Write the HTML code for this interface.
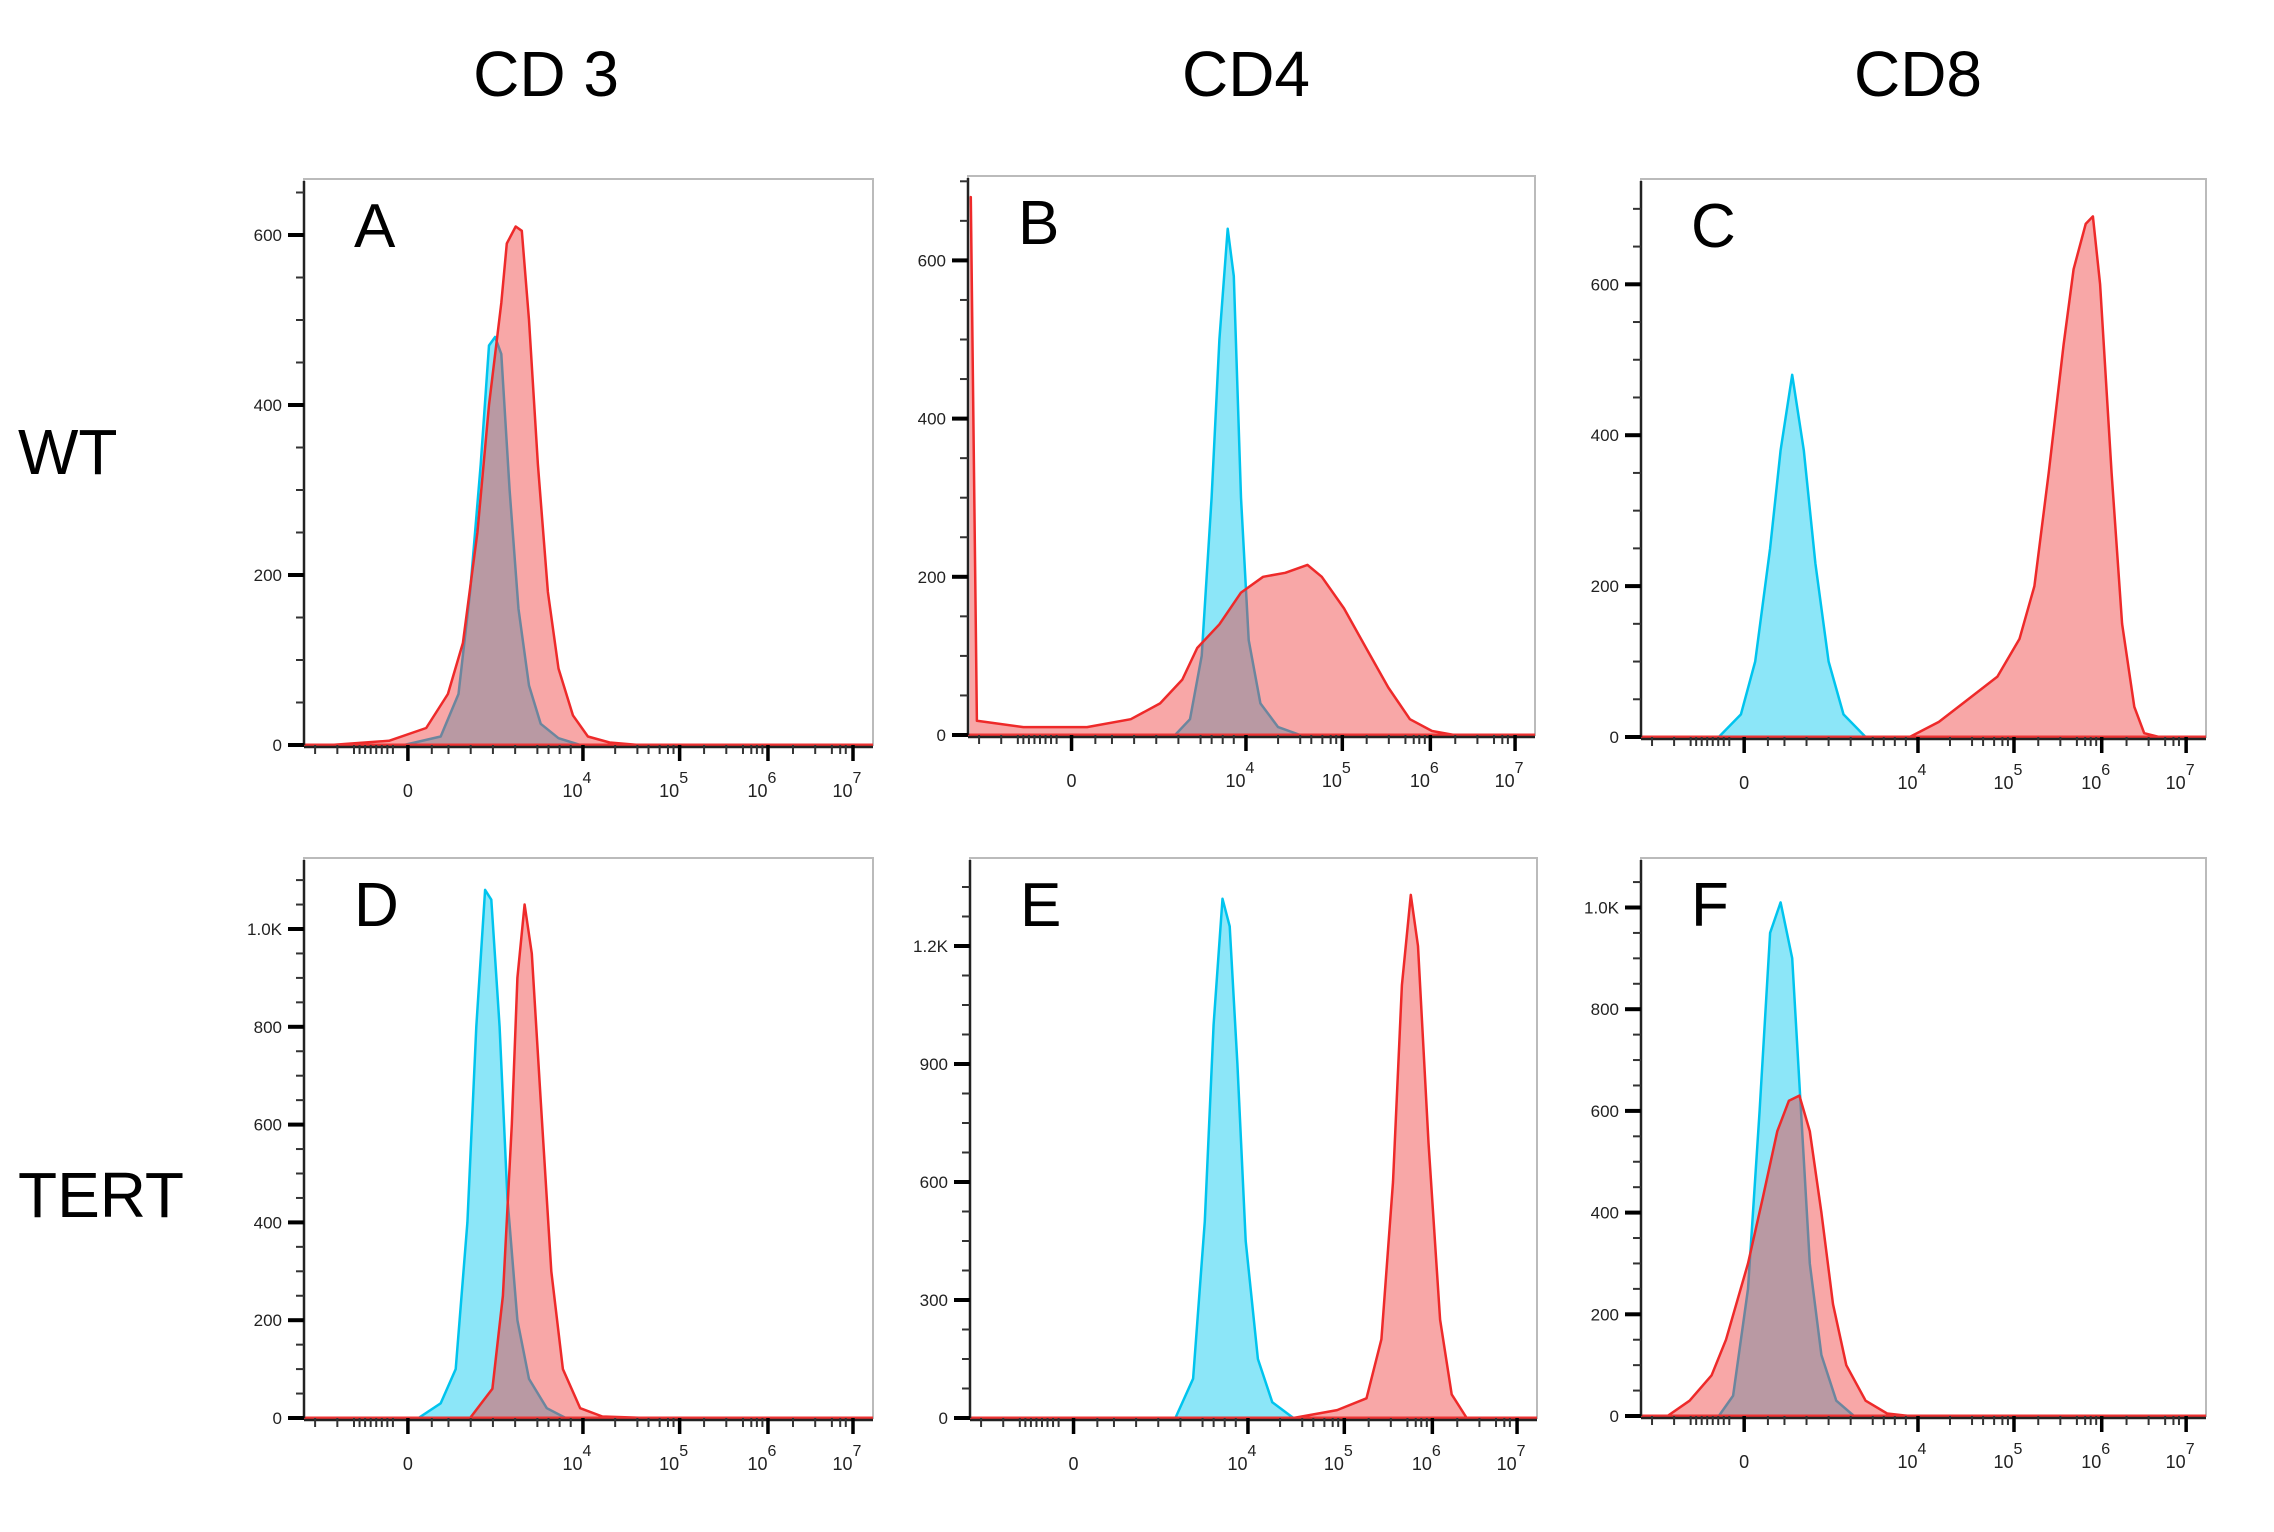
<!DOCTYPE html>
<html><head><meta charset="utf-8"><style>
html,body{margin:0;padding:0;background:#fff}
svg{display:block}
text{font-family:"Liberation Sans",Arial,sans-serif}
</style></head><body>
<svg id="fig" width="2274" height="1532" viewBox="0 0 2274 1532" xmlns="http://www.w3.org/2000/svg">
<text x="546" y="96" font-size="64" text-anchor="middle">CD 3</text>
<text x="1246" y="96" font-size="64" text-anchor="middle">CD4</text>
<text x="1918" y="96" font-size="64" text-anchor="middle">CD8</text>
<text x="18" y="474" font-size="64">WT</text>
<text x="18" y="1217" font-size="64">TERT</text>
</svg>
<script>
// x in channel units (0-1024 across frame), y in event counts
const xTickLabels = ["0","4","5","6","7"];
const xTickChannels = [187, 502, 676, 835, 988];
const xMinorChannels = [20,60,90,100,110,120,130,140,150,160,230,260,300,340,380,420,440,460,480,560,600,620,640,655,665,720,760,790,805,815,825,880,920,950,965,975];

const aRedX = [48,153,220,259,286,312,333,355,365,381,392,405,421,439,458,484,511,550,603];
const aRedY = [0,5,20,60,120,250,400,520,590,610,605,500,330,180,90,35,10,3,0];
const aBlueX = [180,246,278,299,318,333,344,355,370,386,405,426,458,497];
const aBlueY = [0,10,60,180,330,470,480,460,300,160,70,25,8,0];

const bRedX = [3,5,16,100,215,294,347,387,414,454,493,533,573,613,639,679,719,759,798,838,878,1020];
const bRedY = [680,680,18,10,10,20,40,70,110,140,180,200,205,215,200,160,110,60,20,5,0,0];
const bBlueX = [374,401,422,440,454,469,480,493,507,528,560,600];
const bBlueY = [0,20,100,300,500,640,580,300,120,40,10,0];

const cBlueX = [141,181,207,234,253,274,295,316,340,367,407];
const cBlueY = [0,30,100,250,380,480,380,230,100,30,0];
const cRedX = [487,540,593,646,686,713,739,766,784,806,819,832,853,872,894,912,939];
const cRedY = [0,20,50,80,130,200,350,520,620,680,690,600,350,150,40,5,0];

const dBlueX = [206,246,273,294,310,326,337,352,366,384,405,437,471];
const dBlueY = [0,30,100,400,800,1080,1060,800,450,200,80,20,0];
const dRedX = [299,339,358,374,384,397,410,426,445,466,497,537,617];
const dRedY = [0,60,250,600,900,1050,950,650,300,100,20,3,0];

const eBlueX = [371,403,424,440,456,469,483,498,520,546,584];
const eBlueY = [0,100,500,1000,1320,1250,900,450,150,40,0];
const eRedX = [584,663,716,743,764,780,796,809,828,849,870,897];
const eRedY = [0,20,50,200,600,1100,1330,1200,700,250,60,0];

const fBlueX = [141,167,194,215,234,253,274,290,306,327,354,386];
const fBlueY = [0,40,250,600,950,1010,900,600,300,120,30,0];
const fRedX = [48,88,128,154,194,221,247,268,287,306,327,348,372,407,446,487];
const fRedY = [0,30,80,150,300,430,560,620,630,560,400,220,100,30,5,0];

const panels = [
 {id:'a',letter:'A',l:304,t:179,r:873,y0:745,pxPer:170/200,yTicks:[0,200,400,600],yLab:["0","200","400","600"],minor:50,yMax:660,series:[[aBlueX,aBlueY,'blue'],[aRedX,aRedY,'red']]},
 {id:'b',letter:'B',l:968,t:176,r:1535,y0:735,pxPer:158.2/200,yTicks:[0,200,400,600],yLab:["0","200","400","600"],minor:50,yMax:700,series:[[bBlueX,bBlueY,'blue'],[bRedX,bRedY,'red']]},
 {id:'c',letter:'C',l:1641,t:179,r:2206,y0:737,pxPer:150.9/200,yTicks:[0,200,400,600],yLab:["0","200","400","600"],minor:50,yMax:740,series:[[cBlueX,cBlueY,'blue'],[cRedX,cRedY,'red']]},
 {id:'d',letter:'D',l:304,t:858,r:873,y0:1418,pxPer:97.8/200,yTicks:[0,200,400,600,800,1000],yLab:["0","200","400","600","800","1.0K"],minor:50,yMax:1140,series:[[dBlueX,dBlueY,'blue'],[dRedX,dRedY,'red']]},
 {id:'e',letter:'E',l:970,t:858,r:1537,y0:1418,pxPer:118/300,yTicks:[0,300,600,900,1200],yLab:["0","300","600","900","1.2K"],minor:75,yMax:1420,series:[[eBlueX,eBlueY,'blue'],[eRedX,eRedY,'red']]},
 {id:'f',letter:'F',l:1641,t:858,r:2206,y0:1416,pxPer:101.7/200,yTicks:[0,200,400,600,800,1000],yLab:["0","200","400","600","800","1.0K"],minor:50,yMax:1090,series:[[fBlueX,fBlueY,'blue'],[fRedX,fRedY,'red']]}
];
const NS='http://www.w3.org/2000/svg';
const svg=document.getElementById('fig');
function mk(tag,attrs,parent){const e=document.createElementNS(NS,tag);for(const k in attrs)e.setAttribute(k,attrs[k]);(parent||svg).appendChild(e);return e;}
const colors={blue:{fill:'rgb(0,200,240)',stroke:'#00c4ee'},red:{fill:'rgb(240,60,60)',stroke:'#ee2a2a'}};
panels.forEach(p=>{
 const g=mk('g',{});
 
 
 const W=p.r-p.l;
 const xs=ch=>p.l+ch/1024*W;
 const ys=v=>p.y0-v*p.pxPer;
 const fr=mk('rect',{x:p.l,y:p.t,width:W,height:p.y0-p.t,fill:'none',stroke:'#bbb','stroke-width':2},g);
 
 
 p.series.forEach(s=>{
  const [X,Y,c]=s;
  let d='M'+xs(X[0]).toFixed(1)+','+p.y0;
  for(let i=0;i<X.length;i++)d+=' L'+xs(X[i]).toFixed(1)+','+ys(Y[i]).toFixed(1);
  d+=' L'+xs(X[X.length-1]).toFixed(1)+','+p.y0+' Z';
  const f=mk('path',{d:d,fill:colors[c].fill,'fill-opacity':0.45,stroke:'none'},g);
  
  
  let d2='';
  for(let i=0;i<X.length;i++)d2+=(i?' L':'M')+xs(X[i]).toFixed(1)+','+ys(Y[i]).toFixed(1);
  const l=mk('path',{d:d2,fill:'none',stroke:colors[c].stroke,'stroke-width':2.5,'stroke-linejoin':'round'},g);
  
  
 });
 // red baseline
 mk('line',{x1:p.l,x2:p.r,y1:p.y0,y2:p.y0,stroke:'#e33',"stroke-width":3},g);
 // axes
 const ya=mk('line',{x1:p.l,x2:p.l,y1:p.t+2,y2:p.y0,stroke:'#222','stroke-width':2.5},g);
 
 
 for(let v=0;v<=p.yMax;v+=p.minor){mk('line',{x1:p.l-8,x2:p.l,y1:ys(v),y2:ys(v),stroke:'#333','stroke-width':2},g);}
 p.yTicks.forEach((v,i)=>{
  mk('line',{x1:p.l-16,x2:p.l,y1:ys(v),y2:ys(v),stroke:'#000','stroke-width':4},g);
  const t=mk('text',{x:p.l-22,y:ys(v)+6,'font-size':17,'text-anchor':'end',fill:'#222'},g);
  t.textContent=p.yLab[i];
  
  
 });
 const xa=mk('line',{x1:p.l,x2:p.r,y1:p.y0+2,y2:p.y0+2,stroke:'#222','stroke-width':2.5},g);
 
 
 xMinorChannels.forEach(ch=>mk('line',{x1:xs(ch),x2:xs(ch),y1:p.y0,y2:p.y0+9,stroke:'#333','stroke-width':2},g));
 xTickChannels.forEach((ch,i)=>{
  mk('line',{x1:xs(ch),x2:xs(ch),y1:p.y0,y2:p.y0+16,stroke:'#000','stroke-width':3.5},g);
  const t=mk('text',{x:xs(ch)-(i?6:0),y:p.y0+52,'font-size':18,'text-anchor':'middle',fill:'#222'},g);
  
  
  if(i===0){t.textContent='0';}
  else{
   t.textContent='10';
   const s=mk('tspan',{dy:-14,'font-size':16},t);
   s.textContent=xTickLabels[i];
  }
 });
 const L=mk('text',{x:p.l+50,y:p.t+68,'font-size':62,fill:'#000'},g);
 L.textContent=p.letter;
 
 
});
</script>
</body></html>
